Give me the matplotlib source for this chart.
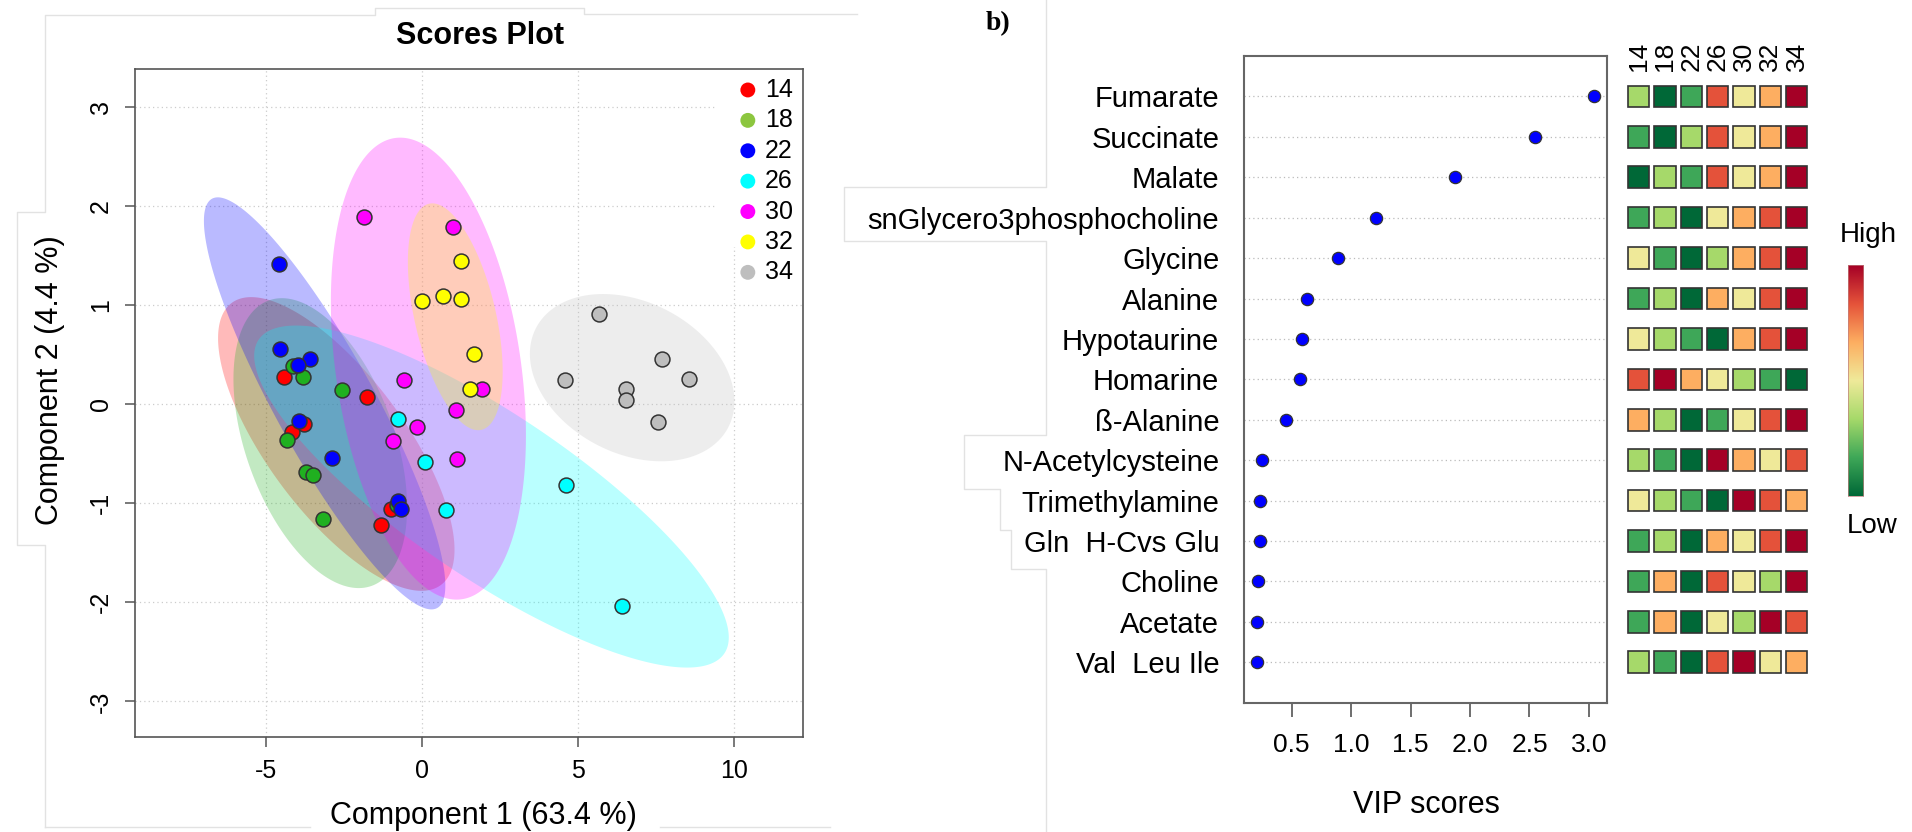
import numpy as np
import matplotlib
matplotlib.use("Agg")
import matplotlib.pyplot as plt
from matplotlib.colors import LinearSegmentedColormap
from matplotlib.patches import Rectangle
from matplotlib.lines import Line2D

plt.rcParams['font.family'] = ['Liberation Sans', 'DejaVu Sans']
plt.rcParams['axes.unicode_minus'] = False

# --- scores plot: component 1 / component 2 per temperature group ---
groups = ['14', '18', '22', '26', '30', '32', '34']

g14_x = [-4.42, -3.77, -4.17, -1.77, -0.98, -1.32]
g14_y = [0.27, -0.20, -0.28, 0.07, -1.06, -1.22]
g18_x = [-4.13, -3.82, -2.55, -4.33, -3.72, -3.50, -3.16, -0.80]
g18_y = [0.38, 0.27, 0.14, -0.36, -0.69, -0.72, -1.16, -1.02]
g22_x = [-4.59, -4.55, -3.57, -3.97, -3.94, -2.86, -0.75, -0.67]
g22_y = [1.41, 0.55, 0.45, 0.39, -0.17, -0.54, -0.98, -1.06]
g26_x = [-0.75, 0.12, 0.78, 4.62, 6.41]
g26_y = [-0.15, -0.59, -1.07, -0.82, -2.04]
g30_x = [-1.84, 1.00, -0.56, 1.93, 1.11, -0.15, -0.91, 1.13]
g30_y = [1.89, 1.79, 0.24, 0.155, -0.06, -0.23, -0.37, -0.56]
g32_x = [1.25, 0.02, 0.69, 1.25, 1.69, 1.55]
g32_y = [1.44, 1.04, 1.09, 1.06, 0.50, 0.15]
g34_x = [5.68, 7.70, 8.57, 4.60, 6.54, 6.54, 7.58]
g34_y = [0.91, 0.45, 0.25, 0.24, 0.15, 0.04, -0.18]

point_colors = ['#FF0000', '#20B020', '#0000FF', '#00FFFF', '#FF00FF', '#FFFF00', '#BEBEBE']
legend_colors = ['#FF0000', '#8CC63F', '#0000FF', '#00FFFF', '#FF00FF', '#FFFF00', '#BEBEBE']

# --- VIP scores ---
metabolites = ['Fumarate', 'Succinate', 'Malate', 'snGlycero3phosphocholine', 'Glycine',
               'Alanine', 'Hypotaurine', 'Homarine', 'ß-Alanine', 'N-Acetylcysteine',
               'Trimethylamine', 'Gln  H-Cvs Glu', 'Choline', 'Acetate', 'Val  Leu Ile']
vip = [3.04, 2.55, 1.87, 1.21, 0.89, 0.63, 0.585, 0.57, 0.45,
       0.25, 0.235, 0.23, 0.22, 0.21, 0.21]
vip_ticks = [0.5, 1.0, 1.5, 2.0, 2.5, 3.0]

# relative level (1 = low ... 7 = high) of each metabolite in each group
heat_levels = [
    [3, 1, 2, 6, 4, 5, 7],
    [2, 1, 3, 6, 4, 5, 7],
    [1, 3, 2, 6, 4, 5, 7],
    [2, 3, 1, 4, 5, 6, 7],
    [4, 2, 1, 3, 5, 6, 7],
    [2, 3, 1, 5, 4, 6, 7],
    [4, 3, 2, 1, 5, 6, 7],
    [6, 7, 5, 4, 3, 2, 1],
    [5, 3, 1, 2, 4, 6, 7],
    [3, 2, 1, 7, 5, 4, 6],
    [4, 3, 2, 1, 7, 6, 5],
    [2, 3, 1, 5, 4, 6, 7],
    [2, 5, 1, 6, 4, 3, 7],
    [2, 5, 1, 4, 3, 7, 6],
    [3, 2, 1, 6, 7, 4, 5],
]
heat_colors = ['#006837', '#3FA858', '#A6D96A', '#EFEA9A', '#FDAE61', '#E5533A', '#A50026']

W, H = 1912, 832
fig = plt.figure(figsize=(W / 100, H / 100), dpi=100)


def fx(px):
    return px / W


def fy(py):
    return 1 - py / H


# faint panel outlines left over from the figure assembly (pixel paths)
panel_edges = [
    [(45, 827), (45, 545), (17, 545), (17, 212), (45, 212), (45, 15), (375, 15),
     (375, 8), (584, 8), (584, 14), (857, 14)],
    [(45, 827), (310, 827)],
    [(660, 827), (830, 827)],
    [(1045.7, 0), (1045.7, 187), (844, 187), (844, 241), (1045.7, 241), (1045.7, 435),
     (964, 435), (964, 489), (1000, 489), (1000, 530), (1010.7, 530), (1010.7, 569),
     (1045.7, 569), (1045.7, 832)],
]
for path in panel_edges:
    xs = [fx(p[0]) for p in path]
    ys = [fy(p[1]) for p in path]
    fig.add_artist(Line2D(xs, ys, color='#E2E2E2', lw=1.0))

# ================= left: scores plot =================
ax = fig.add_axes([fx(135), fy(737), fx(803.3) - fx(135), fy(69) - fy(737)])
ax.set_xlim(-9.19, 12.23)
ax.set_ylim(-3.36, 3.38)
ax.set_xticks([-5, 0, 5, 10])
ax.set_xticklabels(['-5', '0', '5', '10'])
ax.set_yticks([-3, -2, -1, 0, 1, 2, 3])
ax.set_yticklabels(['-3', '-2', '-1', '0', '1', '2', '3'], rotation=90, va='center')
ax.grid(True, color='#CCCCCC', linestyle=(0, (1, 2.5)), linewidth=0.9)
ax.set_axisbelow(True)
ax.tick_params(axis='both', labelsize=18, length=7, width=1.1, color='#555555')
ax.tick_params(axis='x', pad=9)
ax.tick_params(axis='y', pad=9)
for sp in ax.spines.values():
    sp.set_color('#555555')
    sp.set_linewidth(1.2)

group_x = [g14_x, g18_x, g22_x, g26_x, g30_x, g32_x, g34_x]
group_y = [g14_y, g18_y, g22_y, g26_y, g30_y, g32_y, g34_y]

# 95% confidence ellipses
t95 = np.sqrt(-2 * np.log(0.05))
theta = np.linspace(0, 2 * np.pi, 300)
circ = np.vstack([np.cos(theta), np.sin(theta)])
for gx, gy, col in zip(group_x, group_y, point_colors):
    pts = np.column_stack([gx, gy])
    mu = pts.mean(axis=0)
    L = np.linalg.cholesky(np.cov(pts.T))
    ell = mu[:, None] + t95 * (L @ circ)
    ax.fill(ell[0], ell[1], color=col, alpha=0.27, lw=0, zorder=1)

for gx, gy, col in zip(group_x, group_y, point_colors):
    ax.scatter(gx, gy, s=115, c=col, edgecolors='#333333', linewidths=1.1, zorder=3)

# legend
ax.add_patch(Rectangle((0.868, 0.7335), 0.13, 0.2655, transform=ax.transAxes,
                       facecolor='white', edgecolor='none', zorder=2))
for i, (lab, col) in enumerate(zip(groups, legend_colors)):
    yy = 0.9686 - i * 0.0455
    ax.scatter([0.917], [yy], transform=ax.transAxes, s=115, c=col,
               edgecolors='none', zorder=4, clip_on=False)
    ax.text(0.943, yy, lab, transform=ax.transAxes, fontsize=18,
            ha='left', va='center', zorder=4)

fig.text(fx(479.6), fy(36), 'Scores Plot', fontsize=22, fontweight='bold',
         ha='center', va='center')
fig.text(fx(483.5), fy(824), 'Component 1 (63.4 %)', fontsize=22,
         ha='center', va='baseline')
fig.text(fx(50), fy(380), 'Component 2 (4.4 %)', fontsize=22, rotation=90,
         ha='center', va='center')

# ================= right: VIP scores =================
ax2 = fig.add_axes([fx(1244.3), fy(702.7), fx(1606.7) - fx(1244.3), fy(56) - fy(702.7)])
ypos = np.arange(len(metabolites))[::-1] + 1
ax2.set_ylim(0, 16)
ax2.set_xlim(0.101, 3.15)
for y in ypos:
    ax2.axhline(y, color='#BBBBBB', linestyle=(0, (1, 2.5)), linewidth=0.9, zorder=1)
ax2.scatter(vip, ypos, s=78, c='#0000FF', edgecolors='#333333', linewidths=0.9, zorder=3)
ax2.set_yticks(ypos)
ax2.set_yticklabels(metabolites, fontsize=21)
ax2.tick_params(axis='y', length=0, pad=18)
ax2.set_xticks(vip_ticks)
ax2.set_xticklabels(['%.1f' % v for v in vip_ticks])
ax2.tick_params(axis='x', labelsize=19, length=10, width=1.2, color='#555555', pad=12)
for sp in ax2.spines.values():
    sp.set_color('#666666')
    sp.set_linewidth(1.5)
fig.text(fx(1426.7), fy(813), 'VIP scores', fontsize=22, ha='center', va='baseline')

# heatmap of group levels
cmap = LinearSegmentedColormap.from_list('lowhigh', heat_colors)
ax3 = fig.add_axes([fx(1625.5), fy(702.7), fx(1809.8) - fx(1625.5), fy(56) - fy(702.7)])
ax3.set_xlim(0, 7)
ax3.set_ylim(0, 16)
ax3.axis('off')
for i, row in enumerate(heat_levels):
    for j, lev in enumerate(row):
        ax3.add_patch(Rectangle((j + 0.1, ypos[i] - 0.267), 0.8, 0.534,
                                facecolor=cmap((lev - 1) / 6), edgecolor='#333333', lw=1.2))
for j, g in enumerate(groups):
    ax3.text(j + 0.5, 15.62, g, rotation=90, ha='center', va='bottom', fontsize=19)

# colour key
axc = fig.add_axes([fx(1847.7), fy(495.6), fx(1863.3) - fx(1847.7), fy(265.3) - fy(495.6)])
axc.imshow(np.linspace(0, 1, 256)[:, None], cmap=cmap, aspect='auto', origin='lower')
axc.set_xticks([])
axc.set_yticks([])
for sp in axc.spines.values():
    sp.set_color('#C08080')
    sp.set_linewidth(0.5)
fig.text(fx(1868.3), fy(235.4), 'High', fontsize=20, ha='center', va='center')
fig.text(fx(1871.7), fy(525.8), 'Low', fontsize=20, ha='center', va='center')

fig.text(fx(998), fy(24), 'b)', fontsize=20, fontweight='bold',
         family=['Liberation Serif', 'DejaVu Serif'], ha='center', va='center')

fig.savefig('out.png', dpi=100)
